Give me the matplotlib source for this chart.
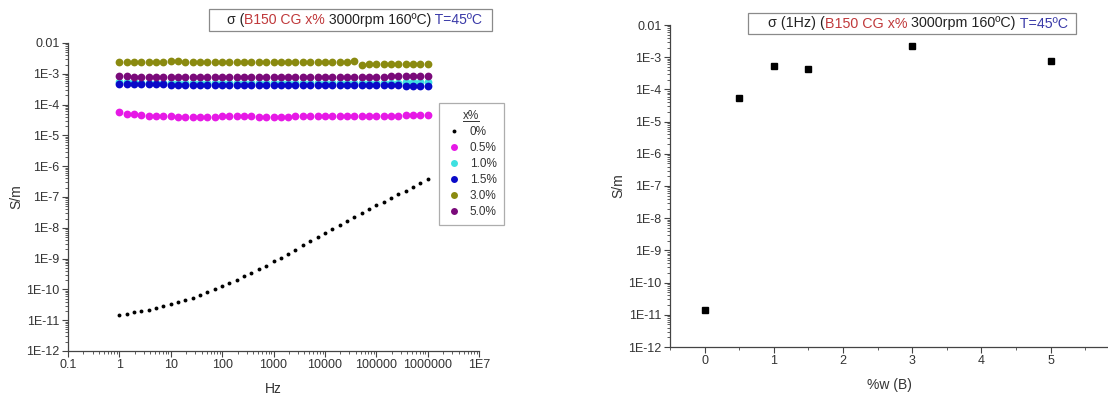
import numpy as np
import matplotlib
matplotlib.use('Agg')
import matplotlib.pyplot as plt
from matplotlib.ticker import LogLocator, FixedLocator, FuncFormatter, MultipleLocator
from matplotlib.patches import Rectangle
from matplotlib.lines import Line2D

plt.rcParams['font.family'] = ['Liberation Sans', 'DejaVu Sans']

W, H = 1108, 396

# frequency grid (Hz), 7 points per decade
freq = [1, 1.39, 1.93, 2.68, 3.73, 5.18, 7.2,
        10, 13.9, 19.3, 26.8, 37.3, 51.8, 72,
        100, 139, 193, 268, 373, 518, 720,
        1000, 1390, 1930, 2680, 3730, 5180, 7200,
        1e4, 1.39e4, 1.93e4, 2.68e4, 3.73e4, 5.18e4, 7.2e4,
        1e5, 1.39e5, 1.93e5, 2.68e5, 3.73e5, 5.18e5, 7.2e5,
        1e6]

s_0 = [1.48e-11, 1.62e-11, 1.78e-11, 1.95e-11, 2.19e-11, 2.51e-11, 2.82e-11,
       3.31e-11, 3.80e-11, 4.57e-11, 5.37e-11, 6.61e-11, 8.13e-11, 1.02e-10,
       1.32e-10, 1.58e-10, 2.04e-10, 2.69e-10, 3.47e-10, 4.57e-10, 5.75e-10,
       8.13e-10, 1.07e-9, 1.45e-9, 1.95e-9, 2.75e-9, 3.63e-9, 4.90e-9,
       6.76e-9, 9.12e-9, 1.26e-8, 1.66e-8, 2.24e-8, 3.02e-8, 3.98e-8,
       5.37e-8, 7.08e-8, 9.33e-8, 1.23e-7, 1.62e-7, 2.14e-7, 2.82e-7,
       3.80e-7]

s_05 = [5.6e-5, 5.0e-5, 4.8e-5, 4.5e-5, 4.4e-5, 4.3e-5, 4.2e-5,
        4.2e-5, 4.1e-5, 4.1e-5, 4.1e-5, 4.1e-5, 4.1e-5, 4.1e-5,
        4.2e-5, 4.2e-5, 4.2e-5, 4.4e-5, 4.2e-5, 4.1e-5, 4.0e-5,
        4.0e-5, 4.1e-5, 4.1e-5, 4.2e-5, 4.2e-5, 4.2e-5, 4.2e-5,
        4.2e-5, 4.2e-5, 4.2e-5, 4.2e-5, 4.3e-5, 4.3e-5, 4.3e-5,
        4.3e-5, 4.4e-5, 4.4e-5, 4.4e-5, 4.5e-5, 4.5e-5, 4.6e-5,
        4.7e-5]

s_10 = [5.4e-4, 5.3e-4, 5.3e-4, 5.2e-4, 5.2e-4, 5.2e-4, 5.2e-4,
        5.2e-4, 5.2e-4, 5.2e-4, 5.2e-4, 5.2e-4, 5.2e-4, 5.2e-4,
        5.2e-4, 5.2e-4, 5.2e-4, 5.2e-4, 5.2e-4, 5.2e-4, 5.2e-4,
        5.2e-4, 5.2e-4, 5.2e-4, 5.2e-4, 5.2e-4, 5.2e-4, 5.2e-4,
        5.2e-4, 5.2e-4, 5.2e-4, 5.2e-4, 5.2e-4, 5.2e-4, 5.2e-4,
        5.2e-4, 5.2e-4, 5.2e-4, 5.2e-4, 5.3e-4, 5.3e-4, 5.3e-4,
        5.4e-4]

s_15 = [4.8e-4, 4.7e-4, 4.6e-4, 4.6e-4, 4.5e-4, 4.5e-4, 4.5e-4,
        4.4e-4, 4.4e-4, 4.4e-4, 4.4e-4, 4.4e-4, 4.4e-4, 4.4e-4,
        4.4e-4, 4.4e-4, 4.4e-4, 4.4e-4, 4.4e-4, 4.4e-4, 4.4e-4,
        4.4e-4, 4.4e-4, 4.4e-4, 4.4e-4, 4.4e-4, 4.4e-4, 4.3e-4,
        4.3e-4, 4.3e-4, 4.3e-4, 4.3e-4, 4.3e-4, 4.3e-4, 4.3e-4,
        4.2e-4, 4.2e-4, 4.2e-4, 4.2e-4, 4.1e-4, 4.1e-4, 4.0e-4,
        3.9e-4]

s_30 = [2.4e-3, 2.4e-3, 2.4e-3, 2.45e-3, 2.45e-3, 2.5e-3, 2.5e-3,
        2.55e-3, 2.55e-3, 2.5e-3, 2.5e-3, 2.5e-3, 2.45e-3, 2.45e-3,
        2.45e-3, 2.45e-3, 2.45e-3, 2.4e-3, 2.4e-3, 2.4e-3, 2.4e-3,
        2.4e-3, 2.4e-3, 2.4e-3, 2.4e-3, 2.4e-3, 2.4e-3, 2.35e-3,
        2.35e-3, 2.35e-3, 2.4e-3, 2.4e-3, 2.55e-3, 1.95e-3, 2.15e-3,
        2.15e-3, 2.15e-3, 2.15e-3, 2.15e-3, 2.1e-3, 2.1e-3, 2.05e-3,
        2.05e-3]

s_50 = [8.2e-4, 8.2e-4, 8.1e-4, 8.1e-4, 8.1e-4, 8.1e-4, 8.1e-4,
        8.1e-4, 8.1e-4, 8.1e-4, 8.1e-4, 8.1e-4, 8.1e-4, 8.1e-4,
        8.1e-4, 8.1e-4, 8.1e-4, 8.1e-4, 8.1e-4, 8.1e-4, 8.1e-4,
        8.1e-4, 8.1e-4, 8.1e-4, 8.1e-4, 8.1e-4, 8.1e-4, 8.1e-4,
        8.1e-4, 8.1e-4, 8.1e-4, 8.1e-4, 8.1e-4, 8.1e-4, 8.1e-4,
        8.1e-4, 8.1e-4, 8.2e-4, 8.2e-4, 8.2e-4, 8.3e-4, 8.4e-4,
        8.5e-4]

labels = ['0%', '0.5%', '1.0%', '1.5%', '3.0%', '5.0%']
colors = ['black', '#e619e6', '#3ee0e0', '#0a0ac8', '#8a8a10', '#7a0a7a']

# sigma at 1 Hz vs boron content
pct_w = [0, 0.5, 1.0, 1.5, 3.0, 5.0]
s_1hz = [1.45e-11, 5.4e-5, 5.4e-4, 4.4e-4, 2.25e-3, 7.4e-4]

ylim = (1e-12, 1e-2)
ydecades = [1e-12, 1e-11, 1e-10, 1e-9, 1e-8, 1e-7, 1e-6, 1e-5, 1e-4, 1e-3, 1e-2]
xdecades = [0.1, 1, 10, 100, 1000, 10000, 100000, 1000000, 1e7]

TXT = '#333333'


def ylab(v, pos):
    e = int(round(np.log10(v)))
    return '0.01' if e == -2 else '1E%d' % e


def xlab(v, pos):
    e = int(round(np.log10(v)))
    if e == -1:
        return '0.1'
    if e == 7:
        return '1E7'
    return '%d' % round(v)


def style(ax):
    for sp in ['top', 'right']:
        ax.spines[sp].set_visible(False)
    for sp in ['left', 'bottom']:
        ax.spines[sp].set_color('#444444')
        ax.spines[sp].set_linewidth(0.9)
    ax.tick_params(which='major', length=4, width=0.8, color='#444444',
                   labelsize=9, labelcolor=TXT, pad=2)
    ax.tick_params(which='minor', length=2, width=0.6, color='#444444')
    ax.set_yscale('log')
    ax.set_ylim(*ylim)
    ax.yaxis.set_major_locator(FixedLocator(ydecades))
    ax.yaxis.set_minor_locator(LogLocator(base=10, subs=np.arange(2, 10), numticks=100))
    ax.yaxis.set_major_formatter(FuncFormatter(ylab))
    ax.set_ylabel('S/m', fontsize=10, color=TXT, labelpad=2)


def title_box(fig, ax, box, tx, pieces, fs):
    x0, y0, x1, y1 = box
    fig.patches.append(Rectangle((x0 / W, 1 - y1 / H), (x1 - x0) / W, (y1 - y0) / H,
                                 transform=fig.transFigure, fill=False,
                                 ec='#8a8a8a', lw=0.9))
    t = fig.text(tx / W, 1 - (y0 + y1) / 2 / H, pieces[0][0], color=pieces[0][1],
                 fontsize=fs, va='center', ha='left')
    for s, c in pieces[1:]:
        t = ax.annotate(s, xy=(1, 0), xycoords=t, va='bottom', ha='left',
                        fontsize=fs, color=c, annotation_clip=False)


fig = plt.figure(figsize=(W / 100, H / 100), dpi=100)
ax1 = fig.add_axes([68 / W, 1 - 351 / H, 411 / W, 308 / H])
ax2 = fig.add_axes([670 / W, 1 - 347 / H, 438 / W, 322 / H])

# left: sigma vs frequency
series = [s_0, s_05, s_10, s_15, s_30, s_50]
handles = []
for i, (ys, lab, c) in enumerate(zip(series, labels, colors)):
    ms = 2.8 if i == 0 else 5.6
    ax1.plot(freq, ys, 'o', ms=ms, color=c, mec='none', label=lab, zorder=3)
    handles.append(Line2D([], [], ls='none', marker='o', ms=2.8 if i == 0 else 5,
                          color=c, mec='none', label=lab))

style(ax1)
ax1.set_xscale('log')
ax1.set_xlim(0.1, 1e7)
ax1.xaxis.set_major_locator(FixedLocator(xdecades))
ax1.xaxis.set_minor_locator(LogLocator(base=10, subs=np.arange(2, 10), numticks=100))
ax1.xaxis.set_major_formatter(FuncFormatter(xlab))
ax1.set_xlabel('Hz', fontsize=10, color=TXT, labelpad=8)

leg = fig.legend(handles=handles, loc='upper left', bbox_to_anchor=(439 / W, 1 - 103 / H),
                 frameon=True, fancybox=False, fontsize=8.5, title='x%', title_fontsize=8.5,
                 handlelength=1.4, handletextpad=0.6, labelspacing=0.34,
                 borderpad=0.6, borderaxespad=0)
leg.get_frame().set_edgecolor('#999999')
leg.get_frame().set_linewidth(0.9)
leg.get_title().set_color(TXT)
for t in leg.get_texts():
    t.set_color(TXT)

title_box(fig, ax1, (209, 9, 492, 31), 227,
          [('σ (', '#222222'), ('B150 CG x%', '#c0393b'),
           (' 3000rpm 160ºC)', '#222222'), (' T=45ºC', '#3a3aa8')], 10.1)

# right: sigma at 1 Hz vs %w
ax2.plot(pct_w, s_1hz, 's', ms=5, color='black', zorder=3)
style(ax2)
ax2.set_xlim(-0.5, 5.83)
ax2.xaxis.set_major_locator(MultipleLocator(1))
ax2.xaxis.set_minor_locator(MultipleLocator(0.5))
ax2.set_xlabel('%w (B)', fontsize=10, color=TXT, labelpad=8)

title_box(fig, ax2, (748, 13, 1076, 34), 768,
          [('σ (1Hz) (', '#222222'), ('B150 CG x%', '#c0393b'),
           (' 3000rpm 160ºC)', '#222222'), (' T=45ºC', '#3a3aa8')], 10.3)

# underline legend title
fig.canvas.draw()
bb = leg.get_title().get_window_extent()
fig.add_artist(Line2D([bb.x0 / W, bb.x1 / W], [(bb.y0 + 1) / H, (bb.y0 + 1) / H],
                      transform=fig.transFigure, color=TXT, lw=0.7, zorder=10))

plt.savefig('out.png', dpi=100)
